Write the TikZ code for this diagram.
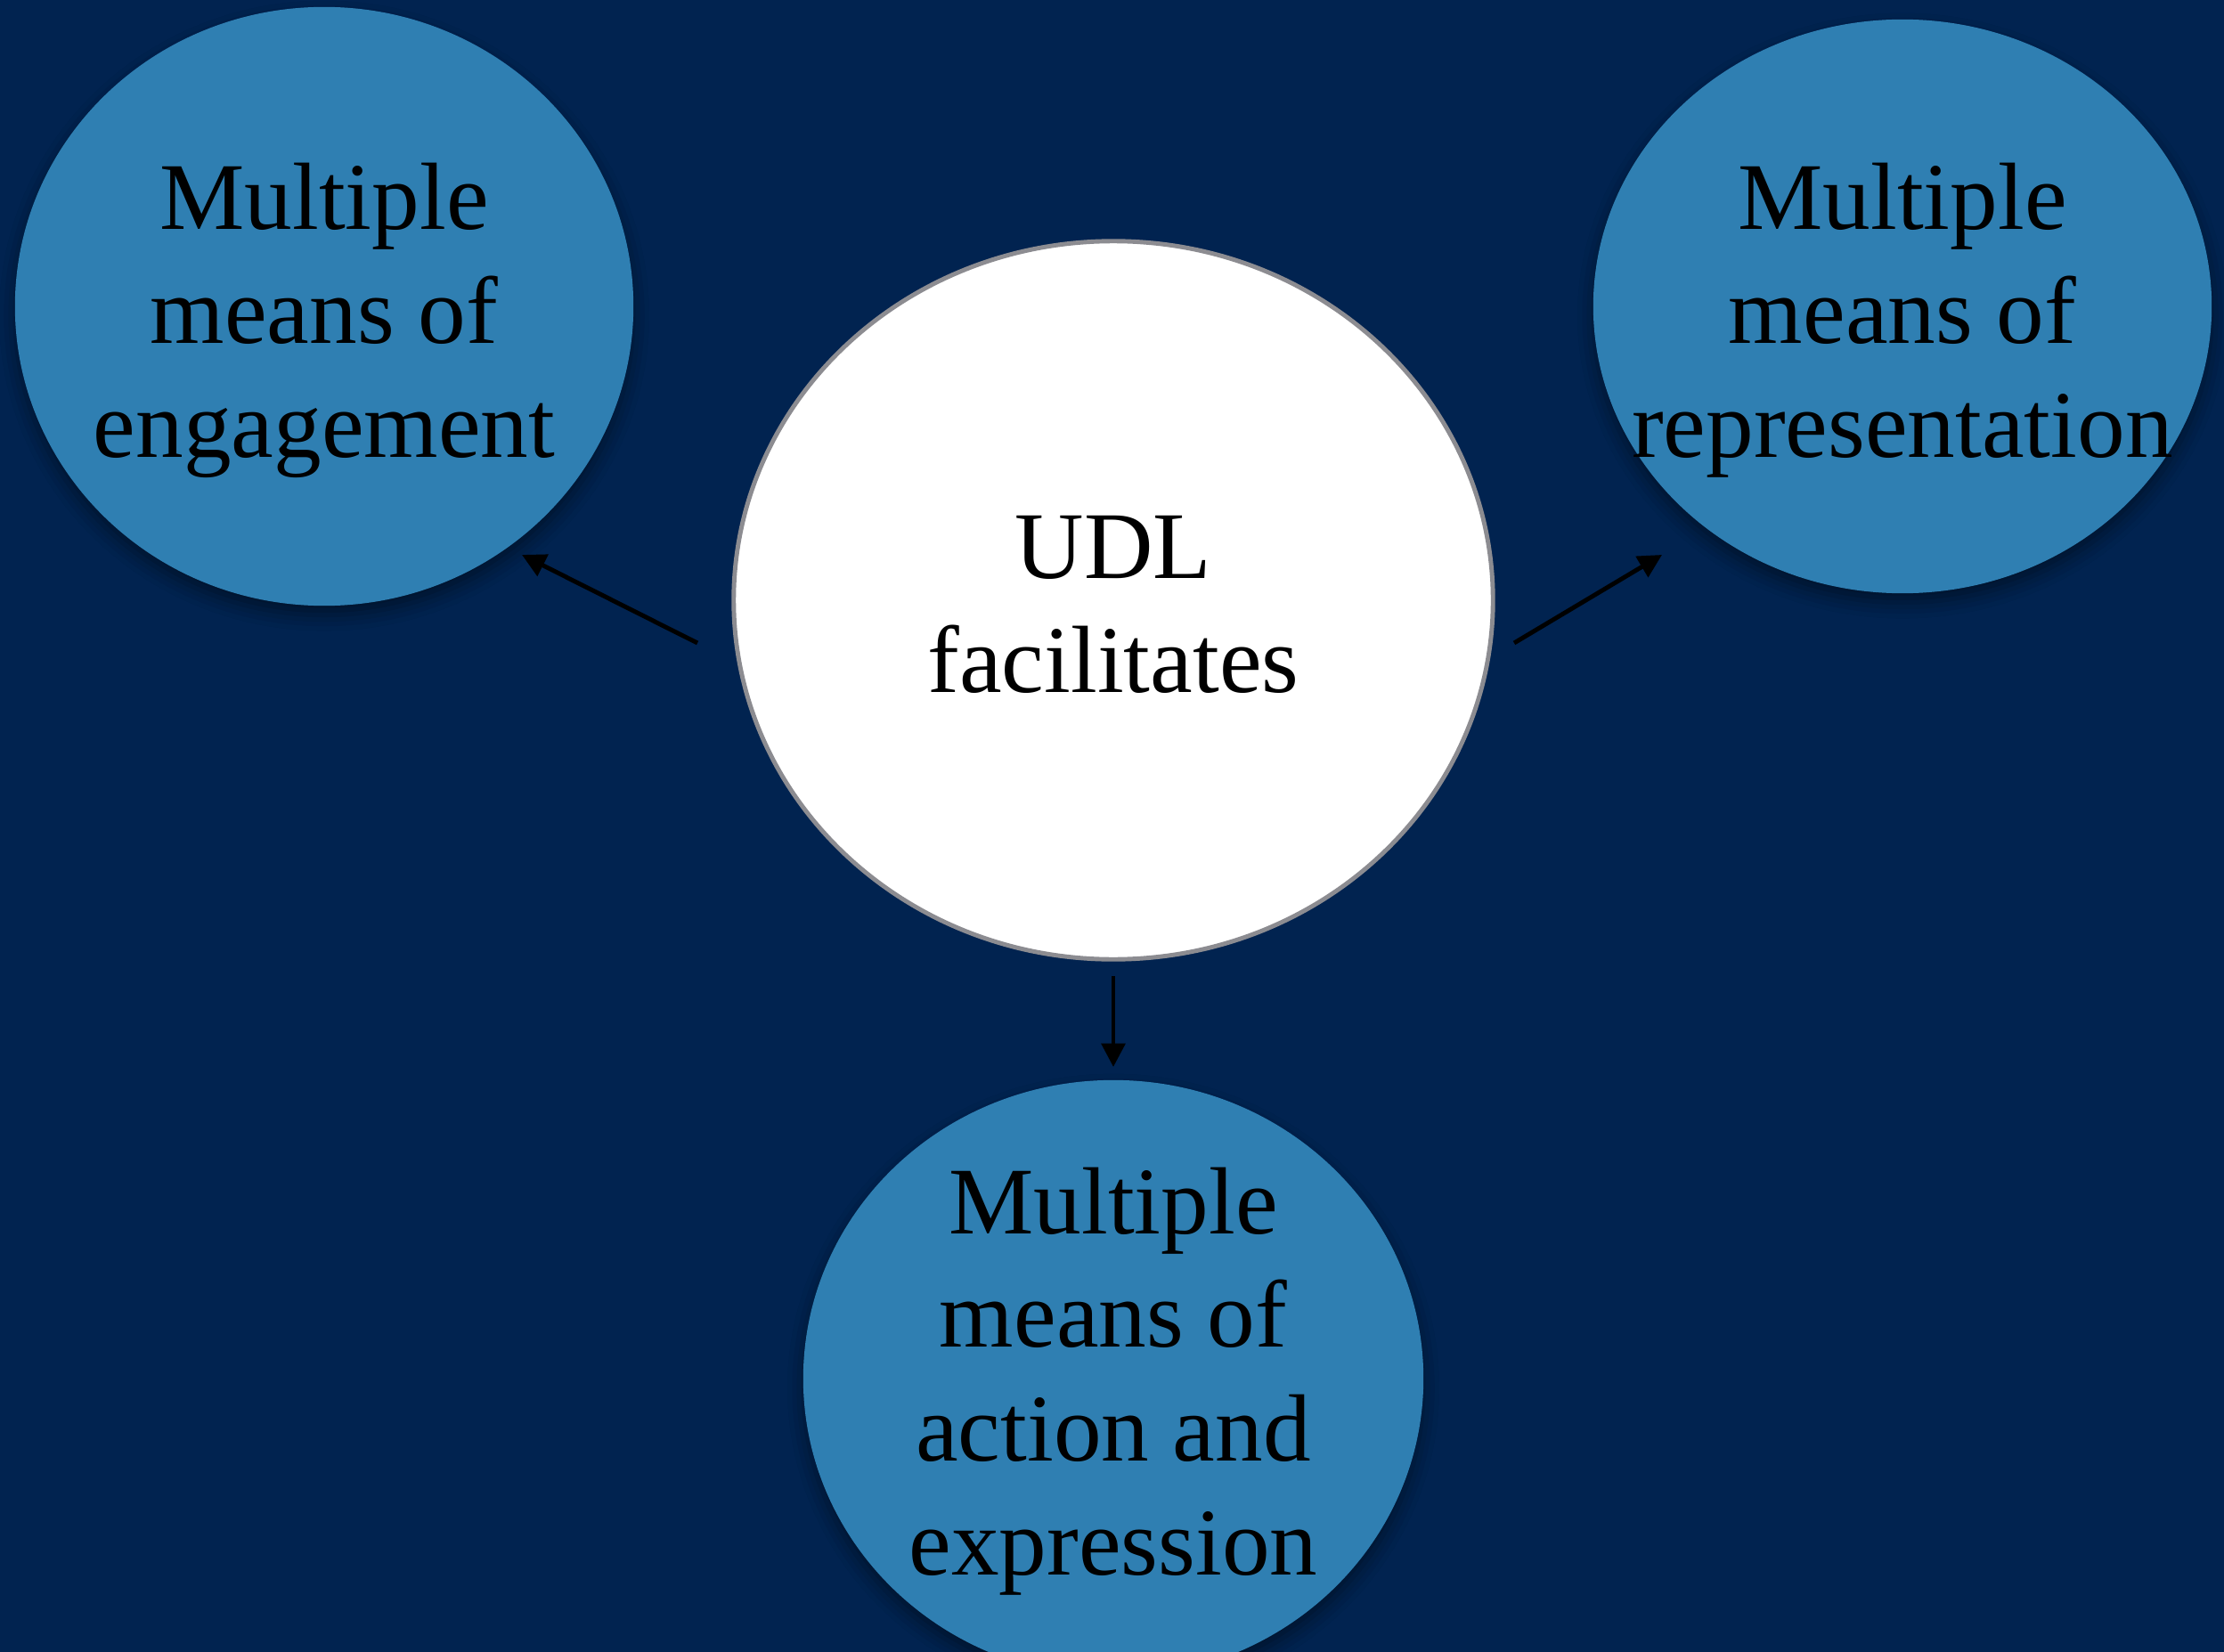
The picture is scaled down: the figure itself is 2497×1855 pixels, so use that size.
\documentclass[tikz,border=0pt]{standalone}
\usepackage{fontspec}
\setmainfont{Liberation Serif}
\usetikzlibrary{shapes.geometric,arrows.meta,shadows.blur}
\definecolor{bgnavy}{RGB}{1,35,80}
\definecolor{udlblue}{RGB}{47,127,178}
\definecolor{rimgray}{RGB}{140,140,145}
\tikzset{
  bluecirc/.style={ellipse, fill=udlblue, inner sep=0pt, align=center,
    blur shadow={shadow xshift=0pt, shadow yshift=-3pt, shadow blur radius=5pt, shadow opacity=45}},
  whitecirc/.style={ellipse, fill=white, draw=rimgray, line width=1.4pt, inner sep=0pt, align=center},
  label/.style={font=\fontsize{30.5}{36.3}\selectfont, align=center, anchor=base, inner sep=0pt},
  conn/.style={line width=1.4pt, black, -{Triangle[length=7.5pt,width=7.5pt]}}
}
\begin{document}
\begin{tikzpicture}[x=0.01cm,y=-0.01cm]
\fill[bgnavy] (0,0) rectangle (2497,1855);
\useasboundingbox (0,0) rectangle (2497,1855);
\begin{scope}
\clip (0,0) rectangle (2497,1855);
\node[bluecirc, minimum width=6.94cm, minimum height=6.72cm] (eng) at (364,344) {};
\node[bluecirc, minimum width=6.94cm, minimum height=6.44cm] (rep) at (2136,344) {};
\node[bluecirc, minimum width=6.96cm, minimum height=6.70cm] (act) at (1250,1548) {};
\node[whitecirc, minimum width=8.52cm, minimum height=8.06cm] (udl) at (1250,674) {};
\end{scope}
\node[label] (engt) at (364,513) {Multiple\\means of\\engagement};
\node[label] (rept) at (2136,513) {Multiple\\means of\\representation};
\node[label] (actt) at (1250,1768) {Multiple\\means of\\action and\\expression};
\node[label] (udlt) at (1250,777) {UDL\\facilitates};
\coordinate (a1s) at (783,722);
\coordinate (a1e) at (586,623);
\coordinate (a2s) at (1700,722);
\coordinate (a2e) at (1866,623);
\coordinate (a3s) at (1250,1096);
\coordinate (a3e) at (1250,1198);
\draw[conn] (a1s) -- (a1e);
\draw[conn] (a2s) -- (a2e);
\draw[conn] (a3s) -- (a3e);
\end{tikzpicture}
\end{document}
